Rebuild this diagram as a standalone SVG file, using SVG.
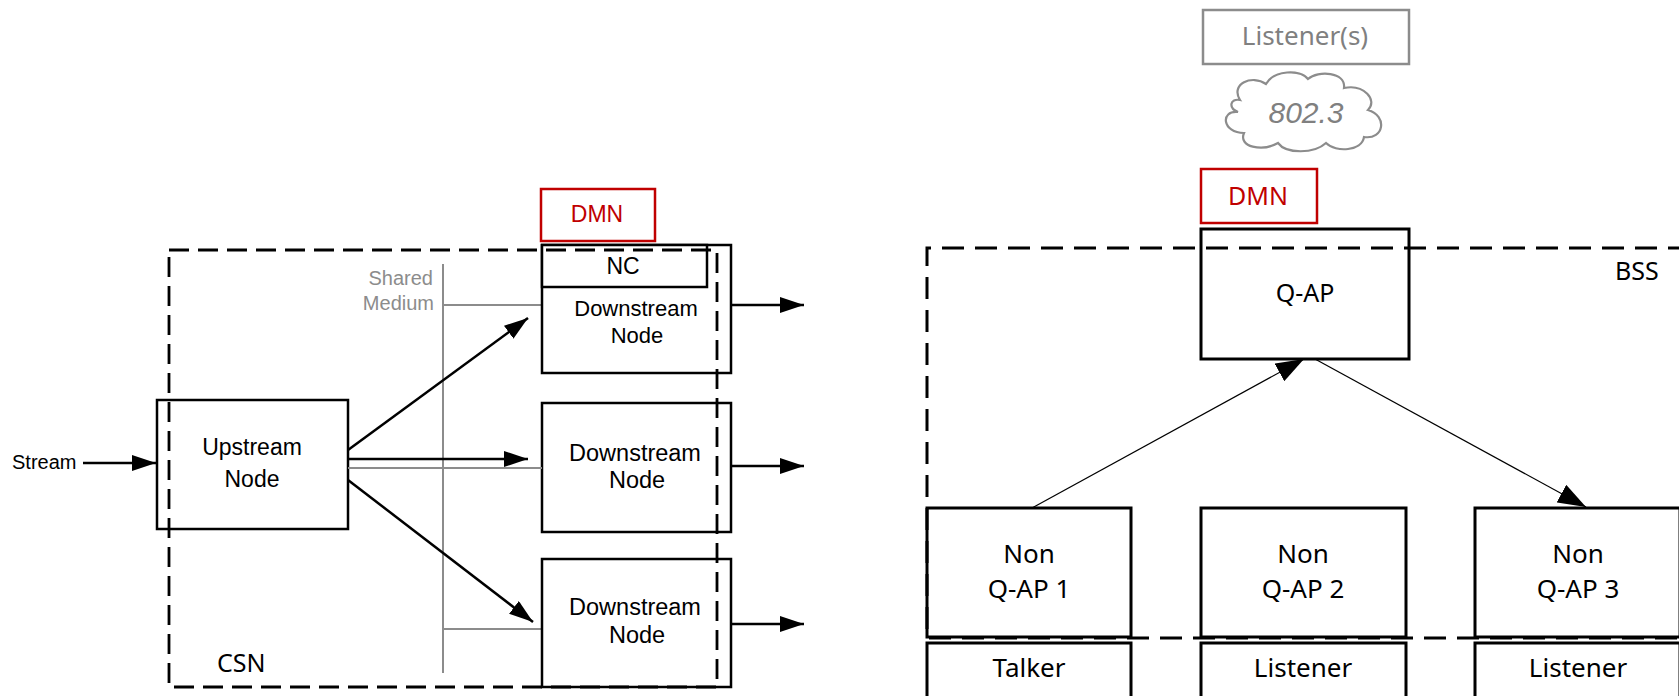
<svg xmlns="http://www.w3.org/2000/svg" width="1679" height="696" viewBox="0 0 1679 696">
<style>
.box{fill:#fff;stroke:#000;stroke-width:2.5}
.rbox{fill:#fff;stroke:#000;stroke-width:3}
.red{fill:none;stroke:#c00000;stroke-width:2.5}
.gbox{fill:#fff;stroke:#8c8c8c;stroke-width:2.5}
.dash{fill:none;stroke:#000;stroke-width:2.8;stroke-dasharray:20 9}
.dash2{fill:none;stroke:#000;stroke-width:3;stroke-dasharray:22 11}
.gl{stroke:#8c8c8c;stroke-width:2;fill:none}
.arr{stroke:#000;stroke-width:2.5;fill:none;marker-end:url(#ah)}
.thin{stroke:#000;stroke-width:1.2;fill:none;marker-end:url(#ah2)}
.a{font-family:"Liberation Sans",Arial,sans-serif;fill:#000}
.c{font-family:"Noto Sans",sans-serif;fill:#000}
.m{text-anchor:middle}
</style>
<defs>
<marker id="ah" markerUnits="userSpaceOnUse" markerWidth="24" markerHeight="16" refX="24" refY="8" orient="auto"><path d="M0,0 L24,8 L0,16 Z" fill="#000"/></marker>
<marker id="ah2" markerUnits="userSpaceOnUse" markerWidth="28" markerHeight="20" refX="28" refY="10" orient="auto"><path d="M0,0 L28,10 L0,20 Z" fill="#000"/></marker>
</defs>

<g id="shared-medium">
<line class="gl" x1="443" y1="264" x2="443" y2="673"/>
<line class="gl" x1="443" y1="305" x2="542" y2="305"/>
<line class="gl" x1="443" y1="629" x2="542" y2="629"/>
<text class="a" x="433" y="285" font-size="20" text-anchor="end" style="fill:#8c8c8c">Shared</text>
<text class="a" x="434" y="310" font-size="20" text-anchor="end" style="fill:#8c8c8c">Medium</text>
</g>

<g id="upstream">
<rect class="box" x="157" y="400" width="191" height="129"/>
<text class="a m" x="252" y="455" font-size="23">Upstream</text>
<text class="a m" x="252" y="487" font-size="23">Node</text>
</g>

<g id="downstream1">
<rect class="box" x="542" y="245" width="189" height="128"/>
<rect class="box" x="542" y="245" width="165" height="42"/>
<text class="a m" x="623" y="274" font-size="23">NC</text>
<text class="a m" x="636" y="316" font-size="22">Downstream</text>
<text class="a m" x="637" y="343" font-size="22">Node</text>
</g>
<g id="dmn-left">
<rect class="red" x="541" y="189" width="114" height="52"/>
<text class="a m" x="597" y="222" font-size="23" style="fill:#c00000">DMN</text>
</g>
<g id="downstream2">
<rect class="box" x="542" y="403" width="189" height="129"/>
<text class="a m" x="635" y="461" font-size="23.5">Downstream</text>
<text class="a m" x="637" y="488" font-size="23.5">Node</text>
</g>
<g id="downstream3">
<rect class="box" x="542" y="559" width="189" height="128"/>
<text class="a m" x="635" y="615" font-size="23.5">Downstream</text>
<text class="a m" x="637" y="643" font-size="23.5">Node</text>
</g>

<g id="csn">
<rect class="dash" x="169" y="250" width="548" height="437"/>
<text class="c" x="217" y="672" font-size="25">CSN</text>
</g>

<g id="stream-label">
<text class="a" x="12" y="469" font-size="20">Stream</text>
</g>

<g id="connectors">
<line class="arr" x1="83" y1="463" x2="156" y2="463"/>
<line class="arr" x1="348" y1="450" x2="528" y2="318"/>
<line class="arr" x1="348" y1="459" x2="528" y2="459"/>
<line class="gl" x1="348" y1="468" x2="542" y2="468"/>
<line class="arr" x1="348" y1="480" x2="533" y2="622"/>
<line class="arr" x1="731" y1="305" x2="804" y2="305"/>
<line class="arr" x1="731" y1="466" x2="804" y2="466"/>
<line class="arr" x1="731" y1="624" x2="804" y2="624"/>
<line class="thin" x1="1032" y1="508" x2="1304" y2="359"/>
<line class="thin" x1="1315" y1="359" x2="1586" y2="507"/>
</g>

<g id="listeners">
<rect class="gbox" x="1203" y="10" width="206" height="54"/>
<text class="c m" x="1305" y="45" font-size="26" style="fill:#808080">Listener(s)</text>
</g>
<g id="cloud">
<path d="M1240,100 C1230,84 1252,74 1266,84 C1274,70 1300,69 1308,79 C1318,70 1346,72 1344,88 C1364,84 1378,100 1368,110 C1388,116 1384,140 1364,137 C1362,151 1336,153 1326,143 C1314,154 1286,154 1278,143 C1262,152 1238,147 1244,133 C1222,133 1220,110 1238,112 C1228,108 1230,98 1240,100 Z" fill="#fff" stroke="#8c8c8c" stroke-width="2.2"/>
<text class="a m" x="1306" y="123" font-size="30" font-style="italic" style="fill:#808080">802.3</text>
</g>
<g id="dmn-right">
<rect class="red" x="1201" y="169" width="116" height="54"/>
<text class="c m" x="1258" y="205" font-size="25" style="fill:#c00000">DMN</text>
</g>
<g id="qap">
<rect class="rbox" x="1201" y="229" width="208" height="130"/>
<text class="c m" x="1305" y="302" font-size="25">Q-AP</text>
</g>
<g id="nonqap1">
<rect class="rbox" x="927" y="508" width="204" height="129"/>
<text class="c m" x="1029" y="563" font-size="26">Non</text>
<text class="c m" x="1029" y="598" font-size="26">Q-AP 1</text>
</g>
<g id="nonqap2">
<rect class="rbox" x="1201" y="508" width="205" height="129"/>
<text class="c m" x="1303" y="563" font-size="26">Non</text>
<text class="c m" x="1303" y="598" font-size="26">Q-AP 2</text>
</g>
<g id="nonqap3">
<rect class="rbox" x="1475" y="508" width="205" height="129"/>
<text class="c m" x="1578" y="563" font-size="26">Non</text>
<text class="c m" x="1578" y="598" font-size="26">Q-AP 3</text>
</g>
<g id="bss">
<path class="dash2" d="M1690,248 L927,248 L927,638 L1690,638"/>
<text class="c" x="1615" y="280" font-size="25">BSS</text>
</g>
<g id="talker">
<rect class="rbox" x="927" y="643" width="204" height="70"/>
<text class="c m" x="1029" y="677" font-size="26">Talker</text>
</g>
<g id="listener2">
<rect class="rbox" x="1201" y="643" width="205" height="70"/>
<text class="c m" x="1303" y="677" font-size="26">Listener</text>
</g>
<g id="listener3">
<rect class="rbox" x="1475" y="643" width="205" height="70"/>
<text class="c m" x="1578" y="677" font-size="26">Listener</text>
</g>
</svg>
